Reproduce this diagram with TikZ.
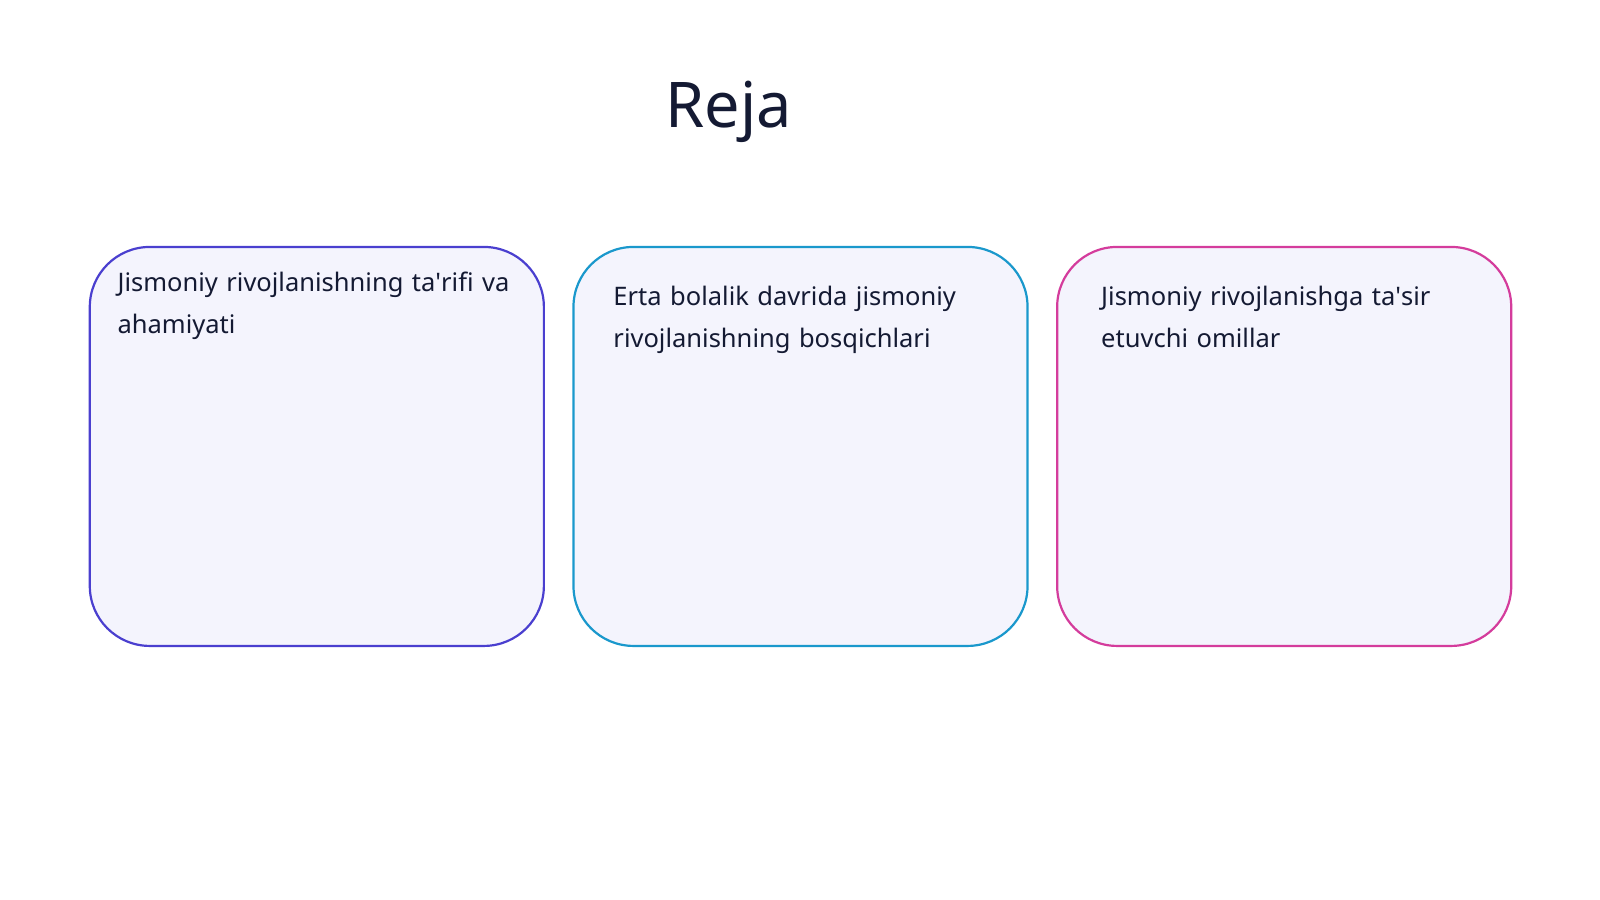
\documentclass[tikz,border=0pt]{standalone}
\usepackage{fontspec}
\setmainfont{Noto Sans}
\definecolor{bA}{HTML}{4A3FCF}
\definecolor{bB}{HTML}{1A98CC}
\definecolor{bC}{HTML}{D43C9C}
\definecolor{fillc}{HTML}{F4F4FD}
\definecolor{ttl}{HTML}{141A33}
\hyphenpenalty=10000
\exhyphenpenalty=10000
\begin{document}
\begin{tikzpicture}[x=1.0204pt,y=-1.0204pt,
  card/.style={line width=2.2pt, rounded corners=60pt, fill=fillc},
  lbl/.style={anchor=north west, align=left, text width=405pt, font=\fontsize{25.5}{42}\selectfont, text=ttl, inner sep=0pt}]
\useasboundingbox (0,0) rectangle (1568,882);
\node[font=\fontsize{63}{70}\selectfont, text=ttl] (title) at (714,110) {Reja};
\draw[card, draw=bA] (88,242) rectangle (533,633);
\draw[card, draw=bB] (562,242) rectangle (1007,633);
\draw[card, draw=bC] (1036,242) rectangle (1481,633);
\node[lbl] (t1) at (115,266) {Jismoniy rivojlanishning ta\textquotesingle rifi va ahamiyati};
\node[lbl] (t2) at (601,280) {Erta bolalik davrida jismoniy rivojlanishning bosqichlari};
\node[lbl, text width=340pt] (t3) at (1079,280) {Jismoniy rivojlanishga ta\textquotesingle sir etuvchi omillar};
\end{tikzpicture}
\end{document}
